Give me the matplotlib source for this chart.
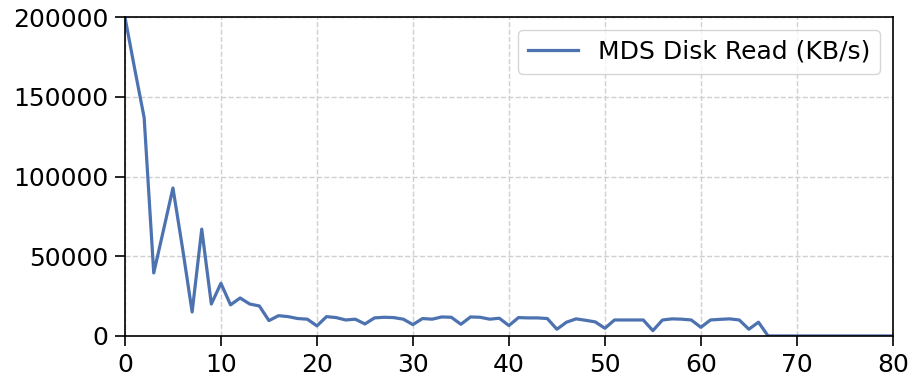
import matplotlib
matplotlib.use("Agg")
from matplotlib import pyplot as plt

# MDS disk read throughput sampled once per time step
steps = list(range(81))
read_kbs = [200000, 168000, 137000, 39500, 66000, 92800, 55000, 15000, 67000, 20000,
            33000, 19500, 23800, 20000, 18800, 9600, 12700, 12100, 10900, 10500,
            6300, 12100, 11500, 10000, 10500, 7500, 11300, 11700, 11500, 10500,
            7100, 10900, 10500, 11900, 11700, 7300, 11900, 11700, 10500, 11100,
            6500, 11500, 11300, 11300, 10900, 4200, 8600, 10700, 9800, 8800,
            4800, 10000, 10000, 10000, 10000, 3300, 10000, 10700, 10500, 10000,
            5400, 10000, 10400, 10700, 10000, 4200, 8600, 0, 0, 0,
            0, 0, 0, 0, 0, 0, 0, 0, 0, 0, 0]
label = "MDS Disk Read (KB/s)"

fig = plt.figure(figsize=(9.12, 3.8), dpi=100)
ax = fig.add_axes([0.137, 0.116, 0.842, 0.839])

ax.plot(steps, read_kbs, color="#4C72B0", linewidth=2.3, label=label)

ax.set_xlim(0, 80)
ax.set_ylim(0, 200000)
ax.set_xticks(range(0, 81, 10))
ax.set_yticks(range(0, 200001, 50000))
ax.tick_params(labelsize=18, length=7, width=1.2, pad=5, colors="black")
ax.grid(True, linestyle="--", color="#d0d0d0", linewidth=1)
for s in ax.spines.values():
    s.set_color("black")
    s.set_linewidth(1.2)

ax.legend(loc="upper right", fontsize=18, handlelength=2.0, frameon=True)

fig.savefig("out.png", dpi=100)
